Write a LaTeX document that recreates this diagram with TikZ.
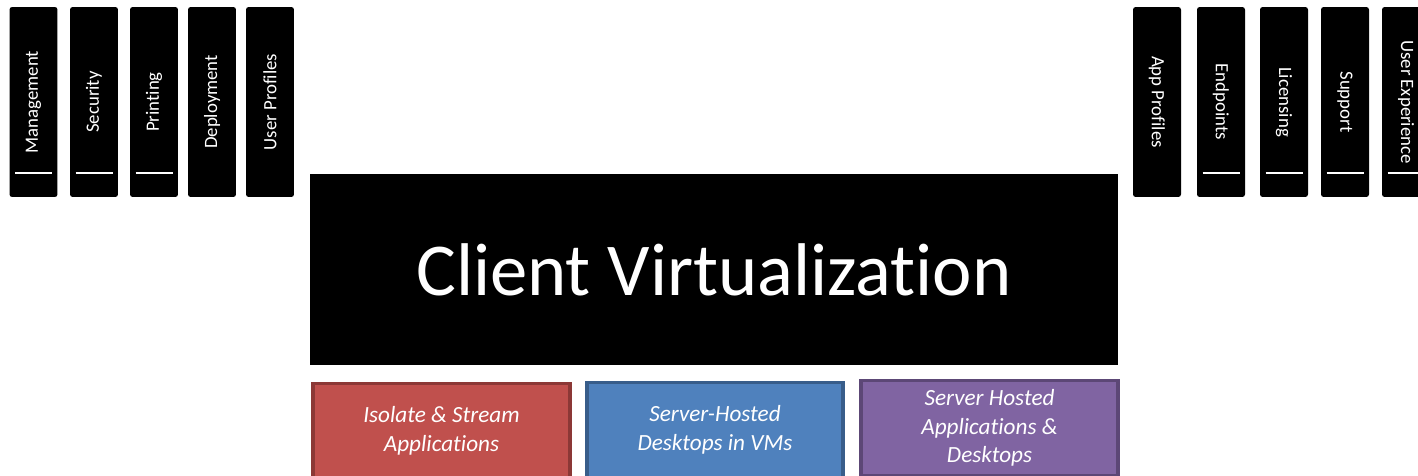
\documentclass[tikz,border=0pt]{standalone}
\usepackage{fontspec}
\setmainfont[Ligatures={NoCommon}]{Carlito}
\usepackage{xcolor}
\usetikzlibrary{positioning}
\definecolor{isolate}{RGB}{192,80,77}
\definecolor{isolateline}{RGB}{140,56,54}
\definecolor{hosted}{RGB}{79,129,189}
\definecolor{hostedline}{RGB}{56,93,138}
\definecolor{shared}{RGB}{128,100,162}
\definecolor{sharedline}{RGB}{92,71,118}

\begin{document}
\begin{tikzpicture}[x=0.02cm, y=-0.02cm,
    pillar/.style={fill=black, rounded corners=1.5pt, minimum width=3.8cm, minimum height=0.96cm,
        inner sep=0pt, text=white, font=\fontsize{10.7}{12}\selectfont},
    solution/.style={line width=2.2pt, minimum width=5.14cm, minimum height=1.9cm, inner sep=2pt,
        text=white, align=center, font=\fontsize{13.2}{16.4}\selectfont\itshape}]
    \clip (0,0) rectangle (1418,476);

    % left pillars
    \foreach \x/\name/\lbl/\withline in {33.5/mgmt/Management/1, 94/sec/Security/1, 154/print/Printing/1,
        212/deploy/Deployment/0, 270/userprof/User Profiles/0} {
        \node[pillar, rotate=90] (\name) at (\x,102) {\lbl};
        \ifnum\withline=1 \draw[white, line width=0.6pt] (\x-18.5,173) -- (\x+18.5,173); \fi
    }

    % right pillars
    \foreach \x/\name/\lbl/\withline in {1157/appprof/App Profiles/0, 1221/endpoints/Endpoints/1,
        1284/licensing/Licensing/1, 1345/support/Support/1, 1406/ux/User Experience/1} {
        \node[pillar, rotate=-90] (\name) at (\x,102) {\lbl};
        \ifnum\withline=1 \draw[white, line width=0.6pt] (\x-18.5,173) -- (\x+18.5,173); \fi
    }

    \node[fill=black, minimum width=16.16cm, minimum height=3.82cm, text=white,
        font=\fontsize{42.5}{48}\selectfont] (cv) at (714,269.5) {Client Virtualization};

    \node[solution, fill=isolate, draw=isolateline] (isolate) at (441.5,431)
        {Isolate \& Stream\\Applications};
    \node[solution, fill=hosted, draw=hostedline, minimum width=5.12cm] (desktops) at (715,430)
        {Server-Hosted\\Desktops in VMs};
    \node[solution, fill=shared, draw=sharedline] (hostedapps) at (989.5,428)
        {Server Hosted\\Applications \&\\Desktops};
\end{tikzpicture}
\end{document}
